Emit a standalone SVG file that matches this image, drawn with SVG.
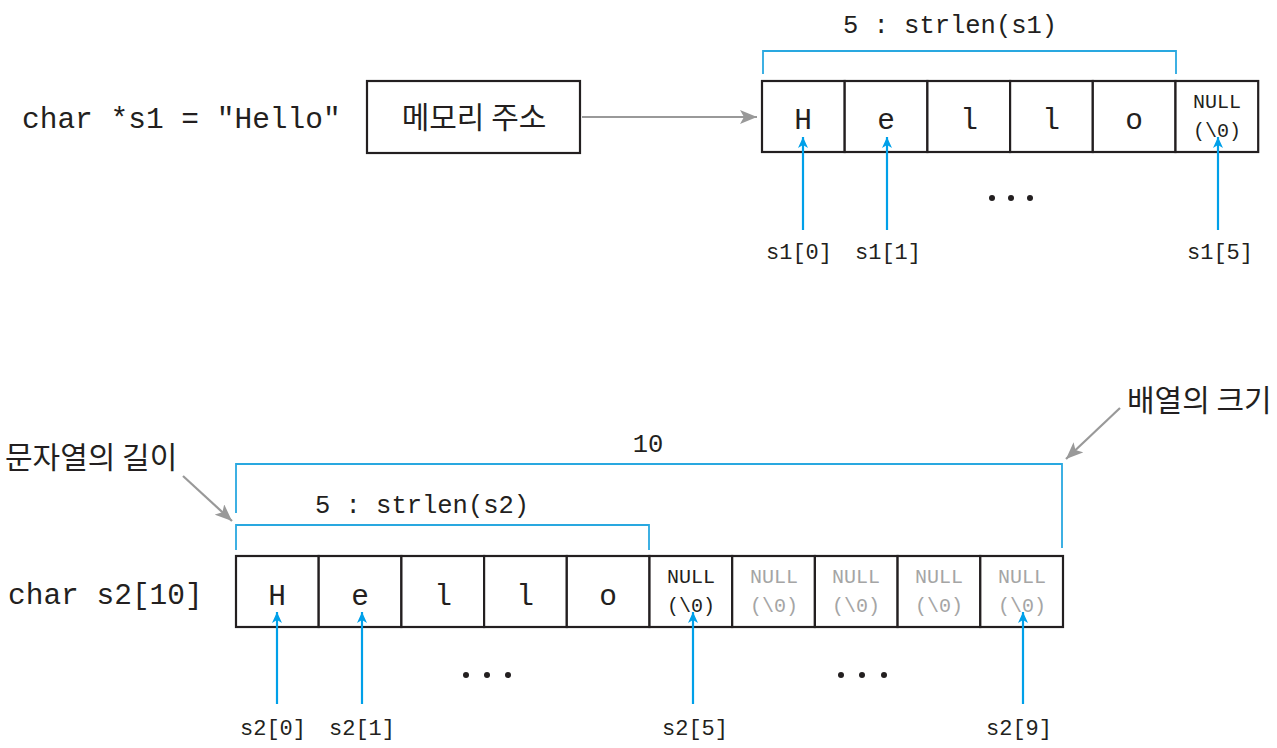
<svg xmlns="http://www.w3.org/2000/svg" width="1277" height="748" viewBox="0 0 1277 748">
<style>
.mono{font-family:"Liberation Mono","DejaVu Sans Mono",monospace;fill:#231f20}
.ko{font-family:"Noto Sans CJK KR","Noto Sans",sans-serif;fill:#231f20;font-size:30px}
.big{font-size:29.5px}
.mid{font-size:25.5px}
.sm{font-size:22px}
.nul{font-size:20px}
.gr{fill:#a5a5a5}
.cell{fill:#fff;stroke:#231f20;stroke-width:2.2}
.br{fill:none;stroke:#29a8e0;stroke-width:1.8}
.blue{stroke:#00a0e9;stroke-width:2.2;fill:none}
.garr{stroke:#999;stroke-width:2.2;fill:none}
.dot{fill:#231f20}
</style>
<defs>
<marker id="ab" markerUnits="userSpaceOnUse" markerWidth="12" markerHeight="10" refX="11" refY="5" orient="auto">
<path d="M0,0 L11,5 L0,10 L3,5 z" fill="#00a0e9"/>
</marker>
<marker id="ag" markerUnits="userSpaceOnUse" markerWidth="18" markerHeight="14" refX="17" refY="7" orient="auto">
<path d="M0,0 L17,7 L0,14 L4,7 z" fill="#999"/>
</marker>
</defs>
<rect width="1277" height="748" fill="#fff"/>

<g id="label-s1">
<text class="mono big" x="22" y="128">char *s1 = "Hello"</text>
</g>
<g id="addr">
<rect class="cell" x="367" y="81" width="213" height="72"/>
<text class="ko" x="474" y="128" text-anchor="middle">메모리 주소</text>
</g>

<g id="array-s1">
<rect class="cell" x="762" y="81" width="82.7" height="71"/>
<rect class="cell" x="844.7" y="81" width="82.7" height="71"/>
<rect class="cell" x="927.4" y="81" width="82.7" height="71"/>
<rect class="cell" x="1010.1" y="81" width="82.7" height="71"/>
<rect class="cell" x="1092.8" y="81" width="82.7" height="71"/>
<rect class="cell" x="1175.5" y="81" width="82.7" height="71"/>
<g class="mono big" text-anchor="middle">
<text x="803" y="129">H</text>
<text x="886" y="129">e</text>
<text x="969" y="129">l</text>
<text x="1051" y="129">l</text>
<text x="1134" y="129">o</text>
</g>
<text class="mono nul" x="1217" y="108" text-anchor="middle">NULL</text>
<text class="mono nul" x="1217" y="137" text-anchor="middle">(\0)</text>
</g>

<g id="bracket-s1">
<path class="br" d="M763,74 V51 H1176 V74"/>
<text class="mono mid" x="950" y="33" text-anchor="middle">5 : strlen(s1)</text>
</g>

<g id="idx-s1">
<text class="mono sm" x="799" y="259" text-anchor="middle">s1[0]</text>
<text class="mono sm" x="888" y="259" text-anchor="middle">s1[1]</text>
<text class="mono sm" x="1220" y="259" text-anchor="middle">s1[5]</text>
<circle class="dot" cx="992" cy="198" r="3"/>
<circle class="dot" cx="1011" cy="198" r="3"/>
<circle class="dot" cx="1030" cy="198" r="3"/>
</g>

<g id="label-s2">
<text class="mono big" x="8" y="604">char s2[10]</text>
</g>

<g id="array-s2">
<rect class="cell" x="236" y="556" width="82.7" height="71"/>
<rect class="cell" x="318.7" y="556" width="82.7" height="71"/>
<rect class="cell" x="401.4" y="556" width="82.7" height="71"/>
<rect class="cell" x="484.1" y="556" width="82.7" height="71"/>
<rect class="cell" x="566.8" y="556" width="82.7" height="71"/>
<rect class="cell" x="649.5" y="556" width="82.7" height="71"/>
<rect class="cell" x="732.2" y="556" width="82.7" height="71"/>
<rect class="cell" x="814.9" y="556" width="82.7" height="71"/>
<rect class="cell" x="897.6" y="556" width="82.7" height="71"/>
<rect class="cell" x="980.3" y="556" width="82.7" height="71"/>
<g class="mono big" text-anchor="middle">
<text x="277" y="605">H</text>
<text x="360" y="605">e</text>
<text x="443" y="605">l</text>
<text x="525" y="605">l</text>
<text x="608" y="605">o</text>
</g>
<g class="mono nul" text-anchor="middle">
<text x="691" y="583">NULL</text>
<text x="691" y="612">(\0)</text>
<text class="gr" x="774" y="583">NULL</text>
<text class="gr" x="774" y="612">(\0)</text>
<text class="gr" x="856" y="583">NULL</text>
<text class="gr" x="856" y="612">(\0)</text>
<text class="gr" x="939" y="583">NULL</text>
<text class="gr" x="939" y="612">(\0)</text>
<text class="gr" x="1022" y="583">NULL</text>
<text class="gr" x="1022" y="612">(\0)</text>
</g>
</g>

<g id="bracket-size">
<path class="br" d="M236,513 V464 H1062 V548"/>
<text class="mono mid" x="648" y="452" text-anchor="middle">10</text>
</g>
<g id="bracket-len">
<path class="br" d="M236,550 V525 H649 V550"/>
<text class="mono mid" x="422" y="513" text-anchor="middle">5 : strlen(s2)</text>
</g>

<g id="note-len">
<text class="ko" x="5" y="468">문자열의 길이</text>
</g>
<g id="note-size">
<text class="ko" x="1127" y="411">배열의 크기</text>
</g>

<g id="idx-s2">
<text class="mono sm" x="273" y="735" text-anchor="middle">s2[0]</text>
<text class="mono sm" x="362" y="735" text-anchor="middle">s2[1]</text>
<text class="mono sm" x="695" y="735" text-anchor="middle">s2[5]</text>
<text class="mono sm" x="1019" y="735" text-anchor="middle">s2[9]</text>
<circle class="dot" cx="466" cy="675" r="3"/>
<circle class="dot" cx="487" cy="675" r="3"/>
<circle class="dot" cx="508" cy="675" r="3"/>
<circle class="dot" cx="841" cy="675" r="3"/>
<circle class="dot" cx="862" cy="675" r="3"/>
<circle class="dot" cx="884" cy="675" r="3"/>
</g>

<g id="connectors">
<line class="garr" x1="582" y1="117" x2="757" y2="117" marker-end="url(#ag)"/>
<line class="blue" x1="803" y1="230" x2="803" y2="137" marker-end="url(#ab)"/>
<line class="blue" x1="887" y1="230" x2="887" y2="137" marker-end="url(#ab)"/>
<line class="blue" x1="1218" y1="230" x2="1218" y2="137" marker-end="url(#ab)"/>
<line class="blue" x1="277" y1="704" x2="277" y2="612" marker-end="url(#ab)"/>
<line class="blue" x1="362" y1="704" x2="362" y2="612" marker-end="url(#ab)"/>
<line class="blue" x1="693" y1="704" x2="693" y2="612" marker-end="url(#ab)"/>
<line class="blue" x1="1023" y1="704" x2="1023" y2="612" marker-end="url(#ab)"/>
<line class="garr" x1="183" y1="476" x2="232" y2="521" marker-end="url(#ag)"/>
<line class="garr" x1="1120" y1="408" x2="1066" y2="459" marker-end="url(#ag)"/>
</g>
</svg>
